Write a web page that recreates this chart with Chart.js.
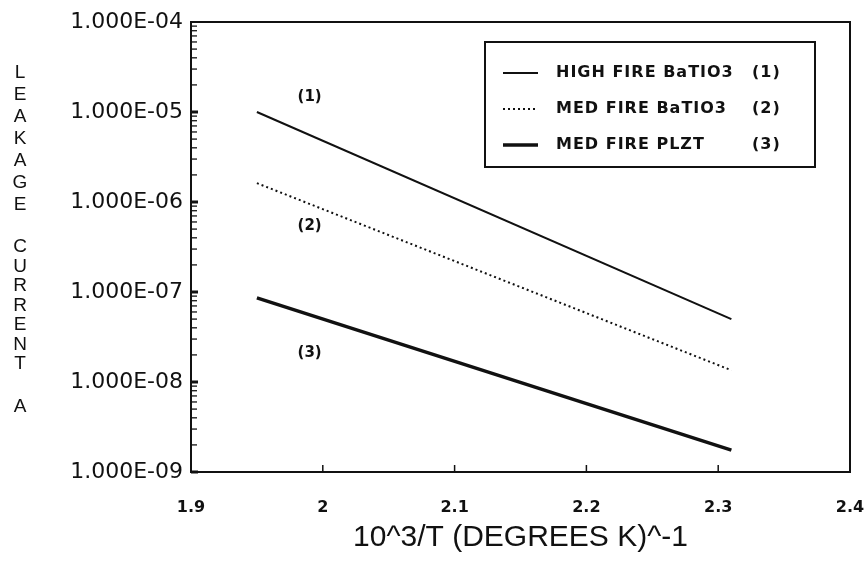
<!DOCTYPE html>
<html>
<head>
<meta charset="utf-8">
<script src="https://cdn.jsdelivr.net/npm/chart.js@4/dist/chart.umd.min.js"></script>
<style>
  html, body { margin: 0; padding: 0; background: #fff; }
</style>
</head>
<body>
<canvas id="myChart" width="864" height="562"></canvas>
<script>
// data (log y)
const xValues = [1.95, 2.31];
const highFireBaTiO3 = [1.0e-5, 5.0e-8];
const medFireBaTiO3 = [1.62e-6, 1.35e-8];
const medFirePLZT = [8.6e-8, 1.75e-9];

const seriesNames = ["HIGH FIRE BaTIO3", "MED FIRE BaTIO3", "MED FIRE PLZT"];
const seriesTags = ["(1)", "(2)", "(3)"];
const tagX = [1.99, 1.99, 1.99];
const tagY = [1.45e-5, 5.4e-7, 2.1e-8];

const xTicks = [1.9, 2, 2.1, 2.2, 2.3, 2.4];
const yTicks = [1e-9, 1e-8, 1e-7, 1e-6, 1e-5, 1e-4];
const yTitleWords = ["LEAKAGE", "CURRENT", "A"];
const xTitle = "10^3/T (DEGREES K)^-1";

const ink = "#111";

function sci(v) {
  const e = Math.round(Math.log10(v));
  return "1.000E" + (e < 0 ? "-" : "+") + String(Math.abs(e)).padStart(2, "0");
}

function toPoints(ys) {
  return xValues.map((x, i) => ({ x: x, y: ys[i] }));
}

// frame, inner ticks, legend, labels
const decorPlugin = {
  id: "decor",
  afterDraw(chart) {
    const ctx = chart.ctx;
    const a = chart.chartArea;
    const xs = chart.scales.x;
    const ys = chart.scales.y;
    ctx.save();
    ctx.strokeStyle = ink;
    ctx.fillStyle = ink;

    // plot frame
    ctx.lineWidth = 2;
    ctx.strokeRect(a.left, a.top, a.right - a.left, a.bottom - a.top);

    // y ticks, inside
    for (let d = 0; d < yTicks.length - 1; d++) {
      for (let k = 1; k <= 9; k++) {
        const py = ys.getPixelForValue(yTicks[d] * k);
        ctx.lineWidth = k === 1 ? 3 : 1.3;
        ctx.beginPath();
        ctx.moveTo(a.left, py);
        ctx.lineTo(a.left + (k === 1 ? 7 : 6), py);
        ctx.stroke();
      }
    }
    // x ticks, inside
    ctx.lineWidth = 1.5;
    xTicks.slice(1, -1).forEach(v => {
      const px = xs.getPixelForValue(v);
      ctx.beginPath();
      ctx.moveTo(px, a.bottom);
      ctx.lineTo(px, a.bottom - 7);
      ctx.stroke();
    });

    // y title, stacked letters
    ctx.font = '19px "Liberation Sans"';
    ctx.textAlign = "center";
    ctx.textBaseline = "middle";
    const starts = [73, 247, 407];
    const pitch = [22, 19.5, 0];
    yTitleWords.forEach((w, i) => {
      for (let j = 0; j < w.length; j++) {
        ctx.fillText(w[j], 20, starts[i] + j * pitch[i]);
      }
    });

    // curve tags
    ctx.font = 'bold 15px "DejaVu Sans"';
    seriesTags.forEach((t, i) => {
      ctx.fillText(t, xs.getPixelForValue(tagX[i]), ys.getPixelForValue(tagY[i]));
    });

    // legend box
    const lx = 485, ly = 42, lw = 330, lh = 125;
    ctx.lineWidth = 2;
    ctx.strokeRect(lx, ly, lw, lh);
    const rowY = [73, 109, 145];
    ctx.font = 'bold 16px "DejaVu Sans"';
    ctx.letterSpacing = "1px";
    ctx.textAlign = "left";
    chart.data.datasets.forEach((ds, i) => {
      ctx.lineWidth = ds.borderWidth;
      ctx.setLineDash(ds.borderDash || []);
      ctx.beginPath();
      ctx.moveTo(503, rowY[i]);
      ctx.lineTo(538, rowY[i]);
      ctx.stroke();
      ctx.setLineDash([]);
      ctx.fillText(seriesNames[i], 556, rowY[i]);
      ctx.fillText(seriesTags[i], 752, rowY[i]);
    });
    ctx.restore();
  }
};

function makeChart() {
  new Chart("myChart", {
    type: "line",
    data: {
      datasets: [{
        label: seriesNames[0],
        data: toPoints(highFireBaTiO3),
        borderColor: ink,
        borderWidth: 2
      }, {
        label: seriesNames[1],
        data: toPoints(medFireBaTiO3),
        borderColor: ink,
        borderWidth: 2,
        borderDash: [2, 3]
      }, {
        label: seriesNames[2],
        data: toPoints(medFirePLZT),
        borderColor: ink,
        borderWidth: 3.5
      }]
    },
    options: {
      responsive: false,
      animation: false,
      elements: { point: { radius: 0 } },
      layout: { padding: { top: 22, right: 14, left: 0, bottom: 0 } },
      plugins: {
        legend: { display: false },
        tooltip: { enabled: false }
      },
      scales: {
        x: {
          type: "linear",
          min: 1.9,
          max: 2.4,
          afterBuildTicks: s => { s.ticks = xTicks.map(v => ({ value: v })); },
          afterFit: s => { s.height = 90; s.paddingLeft = 0; s.paddingRight = 0; },
          grid: { display: false, drawTicks: false },
          border: { display: false },
          ticks: {
            color: ink,
            padding: 26,
            maxRotation: 0,
            font: { family: "DejaVu Sans", size: 16, weight: "bold" },
            callback: v => String(Math.round(v * 10) / 10)
          },
          title: {
            display: true,
            text: xTitle,
            color: ink,
            font: { family: "Liberation Sans", size: 30 },
            padding: { top: 0, bottom: 6 }
          }
        },
        y: {
          type: "logarithmic",
          min: 1e-9,
          max: 1e-4,
          afterBuildTicks: s => { s.ticks = yTicks.map(v => ({ value: v, major: true })); },
          afterFit: s => { s.width = 191; s.paddingTop = 0; s.paddingBottom = 0; },
          grid: { display: false, drawTicks: false },
          border: { display: false },
          ticks: {
            color: ink,
            padding: 8,
            font: { family: "DejaVu Sans", size: 22 },
            callback: v => sci(v)
          }
        }
      }
    },
    plugins: [decorPlugin]
  });
}

onload = (event) => {
  makeChart();
};
</script>
</body>
</html>
